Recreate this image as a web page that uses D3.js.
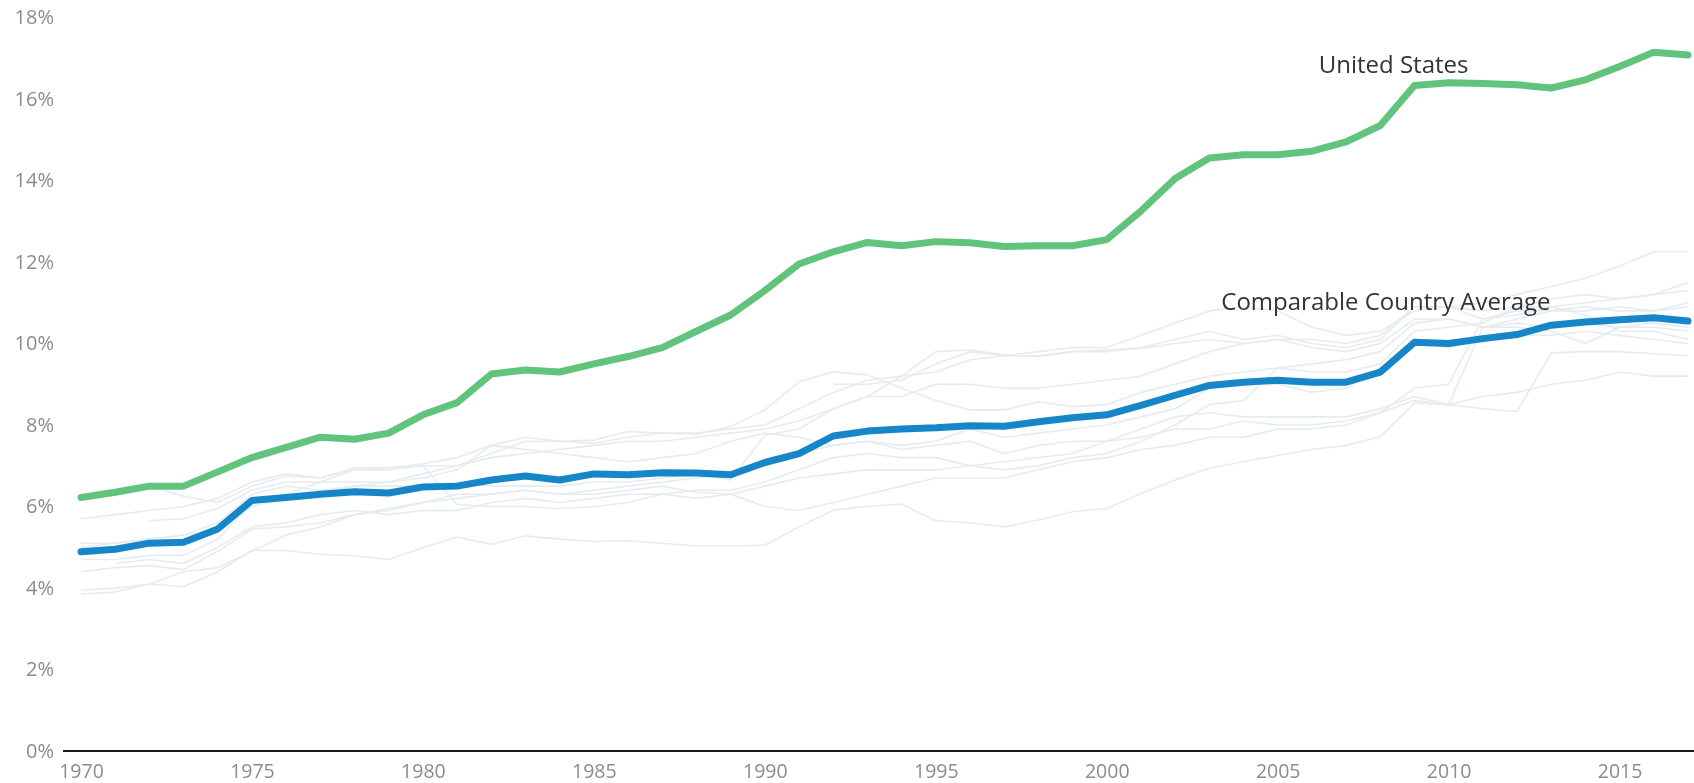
<!DOCTYPE html>
<head>
  <meta charset="utf-8">
  <script src="https://d3js.org/d3.v7.min.js"></script>
  <style>
    body { margin:0;position:fixed;top:0;right:0;bottom:0;left:0;background:#fff; }
    text { font-family: "Open Sans", "Noto Sans", sans-serif; }
  </style>
</head>

<body>
  <script>
    // years on the x axis
    var years = d3.range(1970, 2018);
    var xTicks = [1970, 1975, 1980, 1985, 1990, 1995, 2000, 2005, 2010, 2015];
    var yTicks = [0, 2, 4, 6, 8, 10, 12, 14, 16, 18];

    // health spending as % of GDP, 1970..2017
    var unitedStates = [6.22,6.35,6.5,6.5,6.85,7.2,7.45,7.7,7.65,7.8,8.25,8.55,9.25,9.35,9.3,9.5,9.68,9.9,10.3,10.7,11.3,11.95,12.25,12.48,12.4,12.5,12.47,12.38,12.4,12.4,12.55,13.25,14.05,14.55,14.63,14.63,14.72,14.95,15.35,16.33,16.4,16.38,16.35,16.27,16.47,16.8,17.15,17.08];
    var comparableAvg = [4.89,4.95,5.1,5.12,5.45,6.15,6.22,6.3,6.36,6.33,6.48,6.5,6.65,6.75,6.65,6.8,6.78,6.83,6.82,6.78,7.08,7.3,7.73,7.85,7.9,7.93,7.98,7.97,8.08,8.18,8.25,8.48,8.73,8.97,9.05,9.1,9.05,9.05,9.3,10.03,10.0,10.12,10.22,10.45,10.53,10.58,10.63,10.55];

    // the individual comparable countries (faint lines), null = no data
    var country1 = [5.7,5.8,5.9,6.0,6.2,6.6,6.8,6.7,6.9,6.9,7.0,7.0,7.3,7.6,7.6,7.55,7.7,7.8,7.8,7.9,8.0,8.4,8.8,9.1,9.2,9.3,9.6,9.7,9.8,9.9,9.9,10.2,10.5,10.8,10.9,10.8,10.4,10.2,10.3,10.8,10.9,11.0,11.2,11.4,11.6,11.9,12.25,12.25];
    var country2 = [null,null,null,null,null,null,null,null,null,null,null,null,null,null,null,null,null,null,null,null,null,null,9.0,9.0,9.1,9.5,9.8,9.7,9.7,9.8,9.8,9.9,10.1,10.3,10.1,10.2,10.0,9.9,10.1,10.9,10.9,10.6,10.7,10.9,11.0,11.1,11.2,11.5];
    var country3 = [5.0,5.1,5.2,5.3,5.4,6.0,6.2,6.3,6.5,6.6,6.8,7.0,7.2,7.3,7.4,7.5,7.6,7.6,7.7,7.8,7.9,8.1,8.4,8.7,8.7,9.0,9.0,8.9,8.9,9.0,9.1,9.2,9.5,9.8,10.0,10.1,10.1,10.0,10.2,10.9,10.9,10.8,10.9,11.1,11.2,11.1,11.2,11.3];
    var country4 = [null,null,6.5,6.25,6.1,6.5,6.75,6.7,6.95,6.95,7.0,6.05,6.0,6.0,5.95,6.0,6.1,6.3,6.4,6.4,6.6,6.9,7.2,7.3,7.2,7.2,7.0,6.9,7.0,7.2,7.3,7.6,8.0,8.5,8.6,9.4,9.3,9.3,9.5,10.3,10.4,10.5,10.9,10.9,10.7,10.3,10.3,10.1];
    var country5 = [null,null,5.65,5.7,5.95,6.4,6.6,6.6,6.6,6.6,6.7,6.9,7.5,7.7,7.6,7.63,7.84,7.8,7.78,7.96,8.37,9.06,9.31,9.23,8.9,8.6,8.37,8.37,8.57,8.45,8.5,8.8,9.0,9.2,9.3,9.4,9.5,9.6,9.8,10.5,10.6,10.4,10.4,10.3,10.0,10.4,10.5,10.4];
    var country6 = [5.1,5.1,5.2,5.3,5.6,6.3,6.5,6.4,6.5,6.5,6.5,6.6,6.5,6.5,6.5,6.6,6.6,6.7,6.8,6.65,7.75,7.9,8.4,8.7,9.2,9.8,9.84,9.72,9.68,9.8,9.84,9.88,10.0,10.1,10.0,10.1,9.9,9.8,10.0,10.6,10.6,10.4,10.5,10.4,10.5,10.4,10.4,10.3];
    var country7 = [4.4,4.5,4.55,4.45,4.9,5.45,5.5,5.6,5.8,5.95,6.1,6.2,6.3,6.4,6.3,6.3,6.4,6.5,6.35,6.3,6.0,5.9,6.1,6.3,6.5,6.7,6.7,6.7,6.9,7.1,7.2,7.4,7.5,7.7,7.7,7.9,7.9,8.0,8.3,8.9,9.0,10.6,10.8,10.8,10.8,10.9,10.8,10.9];
    var country8 = [3.95,3.99,4.1,4.03,4.4,4.92,4.92,4.83,4.79,4.7,4.99,5.25,5.07,5.28,5.2,5.14,5.16,5.1,5.03,5.03,5.05,5.5,5.91,6.0,6.06,5.65,5.6,5.5,5.67,5.87,5.95,6.32,6.65,6.94,7.1,7.25,7.4,7.5,7.71,8.54,8.5,8.4,8.33,9.77,9.8,9.8,9.75,9.7];
    var country9 = [3.85,3.9,4.1,4.4,4.5,4.9,5.3,5.5,5.8,5.9,6.1,6.3,6.3,6.4,6.3,6.4,6.5,6.6,6.7,6.8,7.0,7.3,7.5,7.6,7.5,7.6,7.9,7.7,7.8,7.9,8.0,8.2,8.4,8.9,9.0,9.0,8.8,8.9,9.4,10.0,9.9,10.1,10.2,10.2,10.3,10.2,10.1,10.0];
    var country10 = [4.7,4.7,4.8,4.8,5.2,6.1,6.3,6.6,6.9,6.95,7.05,7.2,7.5,7.4,7.3,7.2,7.1,7.2,7.3,7.6,7.8,7.7,7.5,7.6,7.4,7.5,7.6,7.3,7.5,7.6,7.6,7.9,8.2,8.3,8.2,8.2,8.2,8.2,8.4,8.7,8.5,10.4,10.6,10.8,10.9,10.8,10.8,11.0];
    var country11 = [null,4.6,4.7,4.6,5.0,5.5,5.6,5.8,5.9,5.8,5.9,5.9,6.1,6.2,6.1,6.2,6.3,6.3,6.2,6.3,6.5,6.7,6.8,6.9,6.9,6.9,7.0,7.1,7.2,7.3,7.6,7.7,7.9,7.9,8.1,8.0,8.0,8.1,8.3,8.6,8.5,8.7,8.8,9.0,9.1,9.3,9.2,9.2];

    var countries = [country1, country2, country3, country4, country5, country6,
                     country7, country8, country9, country10, country11];

    var width = 1694,
        height = 783;

    var svg = d3.select("body")
      .append("svg")
      .attr("width", width)
      .attr("height", height);

    var x = d3.scaleLinear().domain([1970, 2017]).range([81, 1688]);
    var y = d3.scaleLinear().domain([0, 18]).range([751, 17.5]);

    function toPoints(values) {
      return values.map(function(v, i) { return {year: years[i], value: v}; });
    }

    var line = d3.line()
      .defined(function(d) { return d.value != null; })
      .x(function(d) { return x(d.year); })
      .y(function(d) { return y(d.value); });

    // y axis labels
    var yAxis = svg.append("g")
      .attr("transform", "translate(57,0)")
      .call(d3.axisLeft(y).tickValues(yTicks).tickSize(0).tickPadding(3)
        .tickFormat(function(d) { return d + "%"; }));
    yAxis.select(".domain").remove();
    yAxis.selectAll("text")
      .attr("fill", "#8c8c8c")
      .style("font-size", "20px");

    // x axis labels
    var xAxis = svg.append("g")
      .attr("transform", "translate(0," + y(0) + ")")
      .call(d3.axisBottom(x).tickValues(xTicks).tickSize(0).tickPadding(13)
        .tickFormat(d3.format("d")));
    xAxis.select(".domain").remove();
    xAxis.selectAll("text")
      .attr("fill", "#8c8c8c")
      .style("font-size", "19.5px");

    // baseline
    svg.append("line")
      .attr("x1", 63)
      .attr("x2", width)
      .attr("y1", y(0))
      .attr("y2", y(0))
      .attr("stroke", "#1a1a1a")
      .attr("stroke-width", 2);

    // faint country lines
    svg.selectAll("path.country")
      .data(countries)
      .enter()
      .append("path")
      .attr("class", "country")
      .attr("d", function(d) { return line(toPoints(d)); })
      .attr("fill", "none")
      .attr("stroke", "#e5ecf0")
      .attr("stroke-width", 1.6)
      .attr("stroke-linejoin", "round");

    svg.append("path")
      .attr("d", line(toPoints(comparableAvg)))
      .attr("fill", "none")
      .attr("stroke", "#1786c8")
      .attr("stroke-width", 7)
      .attr("stroke-linejoin", "round")
      .attr("stroke-linecap", "round");

    svg.append("path")
      .attr("d", line(toPoints(unitedStates)))
      .attr("fill", "none")
      .attr("stroke", "#62c37d")
      .attr("stroke-width", 7)
      .attr("stroke-linejoin", "round")
      .attr("stroke-linecap", "round");

    // annotations
    svg.append("text")
      .attr("x", x(2006.2))
      .attr("y", y(16.65))
      .attr("fill", "#333")
      .style("font-size", "24px")
      .text("United States");

    svg.append("text")
      .attr("x", x(2003.35))
      .attr("y", y(10.82))
      .attr("fill", "#333")
      .style("font-size", "24px")
      .text("Comparable Country Average");
  </script>
</body>
